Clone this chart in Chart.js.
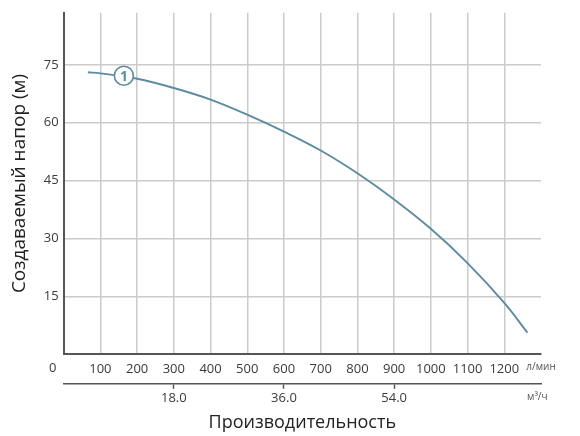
<!DOCTYPE html>
<html>
<head>
<meta charset="utf-8">
<script src="https://cdn.jsdelivr.net/npm/chart.js@4.4.1/dist/chart.umd.min.js"></script>
<style>
html, body { margin: 0; padding: 0; background: #fff; }
#wrap { width: 580px; height: 436px; }
</style>
</head>
<body>
<div id="wrap"><canvas id="chart"></canvas></div>
<script>
// curve 1: flow (л/мин) against head (м)
const flowLpm = [66, 100, 200, 300, 400, 500, 600, 700, 800, 900, 1000, 1100, 1200, 1263];
const headM = [73.1, 72.8, 71.4, 69.0, 66.0, 62.1, 57.7, 52.8, 46.9, 40.1, 32.5, 23.6, 13.3, 5.6];

// the circled "1" label sitting on the curve
const markerFlow = [164];
const markerHead = [72.2];
const markerText = "1";

const headTicks = [15, 30, 45, 60, 75];
const lpmTicks = [100, 200, 300, 400, 500, 600, 700, 800, 900, 1000, 1100, 1200];
const m3hTicks = [18, 36, 54];

const curveColor = "#5c8ba2";
const gridColor = "#cbcbcb";
const axisColor = "#555";
const textColor = "#3a3a3a";
const fontFamily = "'Open Sans', sans-serif";

const curveData = flowLpm.map((q, i) => ({ x: q, y: headM[i] }));
const markerData = markerFlow.map((q, i) => ({ x: q, y: markerHead[i] }));

const tickVal = c => (c && c.tick) ? c.tick.value : null;

// writes the number inside the circle and the lone "0" at the origin
const extraText = {
    id: "extraText",
    afterDatasetsDraw(chart) {
        const ctx = chart.ctx;
        const meta = chart.getDatasetMeta(0);
        ctx.save();
        ctx.fillStyle = curveColor;
        ctx.font = "bold 14px " + fontFamily;
        ctx.textAlign = "center";
        ctx.textBaseline = "middle";
        meta.data.forEach(pt => ctx.fillText(markerText, pt.x, pt.y + 1));
        ctx.restore();
    },
    afterDraw(chart) {
        const ctx = chart.ctx;
        const x = chart.scales.x;
        ctx.save();
        ctx.fillStyle = textColor;
        ctx.font = "13px " + fontFamily;
        ctx.textAlign = "center";
        ctx.textBaseline = "middle";
        ctx.fillText("0", x.getPixelForValue(0) - 11, x.top + 14);
        ctx.restore();
    }
};

new Chart(document.getElementById("chart"), {
    type: "line",
    data: {
        datasets: [{
            data: markerData,
            order: 0,
            showLine: false,
            pointRadius: 9.5,
            pointBackgroundColor: "#fff",
            pointBorderColor: curveColor,
            pointBorderWidth: 1.6
        }, {
            data: curveData,
            order: 1,
            borderColor: curveColor,
            borderWidth: 1.9,
            pointRadius: 0,
            tension: 0.4,
            fill: false
        }]
    },
    plugins: [extraText],
    options: {
        responsive: true,
        maintainAspectRatio: false,
        animation: false,
        layout: { padding: { top: 6, right: 39, left: 8, bottom: 2 } },
        plugins: { legend: { display: false }, tooltip: { enabled: false } },
        scales: {
            x: {
                type: "linear",
                min: 0,
                max: 1300,
                afterBuildTicks: s => { s.ticks = [0].concat(lpmTicks, [1300]).map(v => ({ value: v })); },
                grid: {
                    color: c => tickVal(c) === 1300 ? "rgba(0,0,0,0)" : gridColor,
                    lineWidth: 1.5,
                    drawTicks: false
                },
                border: { color: axisColor, width: 2 },
                ticks: {
                    padding: 7,
                    maxRotation: 0,
                    autoSkip: false,
                    color: c => tickVal(c) === 1300 ? "#555" : textColor,
                    font: c => ({ family: fontFamily, size: tickVal(c) === 1300 ? 10 : 13 }),
                    callback: v => v === 1300 ? "л/мин" : (v === 0 ? "" : String(v))
                }
            },
            x2: {
                type: "linear",
                position: "bottom",
                min: 0,
                max: 78,
                afterBuildTicks: s => { s.ticks = m3hTicks.concat([77.4]).map(v => ({ value: v })); },
                grid: {
                    drawOnChartArea: false,
                    drawTicks: true,
                    tickLength: 5,
                    tickColor: c => tickVal(c) > 70 ? "rgba(0,0,0,0)" : axisColor,
                    tickWidth: 1.5
                },
                border: { color: axisColor, width: 1.5 },
                ticks: {
                    padding: 2,
                    maxRotation: 0,
                    autoSkip: false,
                    color: c => tickVal(c) > 70 ? "#555" : textColor,
                    font: c => ({ family: fontFamily, size: tickVal(c) > 70 ? 10 : 13 }),
                    callback: v => v > 70 ? "м³/ч" : v.toFixed(1)
                },
                title: {
                    display: true,
                    text: "Производительность",
                    color: "#222",
                    font: { family: fontFamily, size: 18 },
                    padding: { top: 4, bottom: 0 }
                }
            },
            y: {
                type: "linear",
                min: 0,
                max: 88.5,
                afterBuildTicks: s => { s.ticks = [0].concat(headTicks).map(v => ({ value: v })); },
                grid: {
                    color: gridColor,
                    lineWidth: 1.5,
                    drawTicks: false
                },
                border: { color: axisColor, width: 2 },
                ticks: {
                    padding: 5,
                    color: textColor,
                    font: { family: fontFamily, size: 13 },
                    callback: v => headTicks.includes(v) ? String(v) : ""
                },
                title: {
                    display: true,
                    text: "Создаваемый напор (м)",
                    color: "#222",
                    font: { family: fontFamily, size: 19 },
                    padding: { top: 0, bottom: 8 }
                }
            }
        }
    }
});
</script>
</body>
</html>
